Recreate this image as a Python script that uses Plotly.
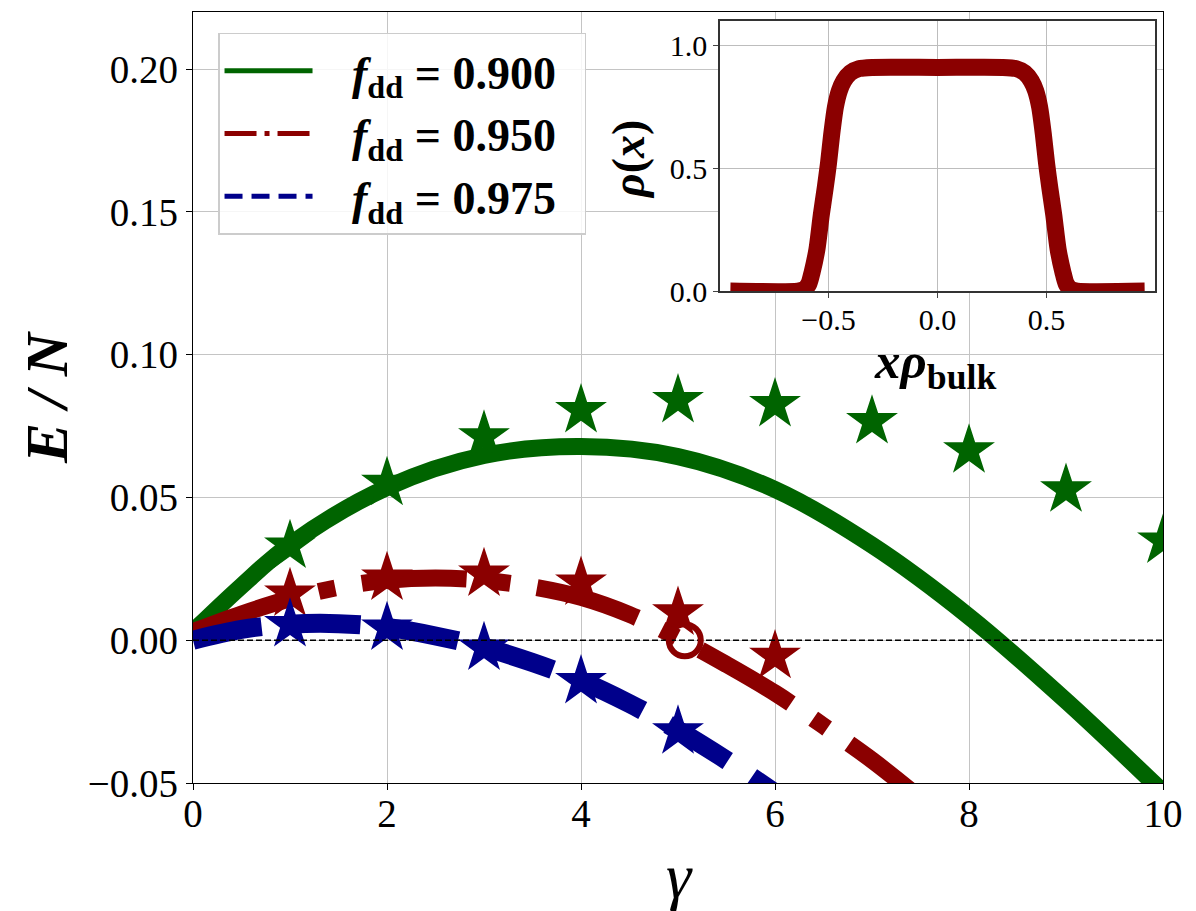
import plotly.graph_objects as go

# energy curves E/N vs gamma
gam_090_c = [0, 0.5, 1, 2, 3, 4, 5, 6, 7, 8, 9, 10]
e_090 = [0.003, 0.019, 0.0335, 0.0535, 0.0647, 0.0678, 0.0643, 0.0528, 0.0333, 0.0083, -0.0212, -0.0532]
gam_095_c = [0, 0.5, 1, 1.5, 2, 2.5, 3, 3.5, 4, 4.5, 5, 5.5, 6, 6.5, 7, 7.5]
e_095 = [0.003, 0.0092, 0.0145, 0.0185, 0.0210, 0.0218, 0.0210, 0.0187, 0.0150, 0.0090, 0.0008,
         -0.0085, -0.0185, -0.0300, -0.0420, -0.0555]
gam_0975_c = [0, 0.5, 1, 1.5, 2, 2.5, 3, 3.5, 4, 4.5, 5, 5.5, 6]
e_0975 = [0.000, 0.0038, 0.0056, 0.0058, 0.0045, 0.0015, -0.0025, -0.0078, -0.0142, -0.0222,
          -0.0315, -0.0420, -0.0535]

# star markers
gam_090 = [1, 2, 3, 4, 5, 6, 7, 8, 9, 10]
star_090 = [0.033, 0.055, 0.0713, 0.0805, 0.0840, 0.0826, 0.0766, 0.0664, 0.0527, 0.0348]
gam_095 = [1, 2, 3, 4, 5, 6]
star_095 = [0.0162, 0.0218, 0.0232, 0.0201, 0.0096, -0.0056]
gam_0975 = [1, 2, 3, 4, 5]
star_0975 = [0.0055, 0.0043, -0.0027, -0.0144, -0.0320]

# open circle marker
circ_x = [5.07]
circ_y = [0.0]

# inset density profile
x_half = [-0.95, -0.64, -0.61, -0.59, -0.575, -0.553, -0.533, -0.515, -0.5, -0.485, -0.468,
          -0.45, -0.43, -0.40, -0.36, -0.30]
rho_half = [0.0, 0.0, 0.008, 0.03, 0.077, 0.17, 0.31, 0.42, 0.52, 0.64, 0.75,
            0.815, 0.855, 0.888, 0.905, 0.91]
x_rho = x_half + [0.0] + [-v for v in reversed(x_half)]
rho = rho_half + [0.91] + list(reversed(rho_half))

labels = ["0.900", "0.950", "0.975"]
GREEN = "#006400"
RED = "#8b0000"
BLUE = "#00008b"
FONT = "Liberation Serif"
NB = "\u00a0"

fig = go.Figure()

fig.add_trace(go.Scatter(x=gam_090_c, y=e_090, mode="lines", line=dict(color=GREEN, width=17, shape="spline"),
                         showlegend=False))
fig.add_trace(go.Scatter(x=gam_090, y=star_090, mode="markers", marker=dict(symbol="star", size=39, color=GREEN),
                         showlegend=False))
fig.add_trace(go.Scatter(x=gam_095_c, y=e_095, mode="lines",
                         line=dict(color=RED, width=17, shape="spline", dash="105px,27px,17px,27px"),
                         showlegend=False))
fig.add_trace(go.Scatter(x=gam_095, y=star_095, mode="markers", marker=dict(symbol="star", size=39, color=RED),
                         showlegend=False))
fig.add_trace(go.Scatter(x=gam_0975_c, y=e_0975, mode="lines",
                         line=dict(color=BLUE, width=19, shape="spline", dash="70px,29px"),
                         showlegend=False))
fig.add_trace(go.Scatter(x=gam_0975, y=star_0975, mode="markers", marker=dict(symbol="star", size=39, color=BLUE),
                         showlegend=False))
fig.add_trace(go.Scatter(x=[0, 10], y=[0, 0], mode="lines", line=dict(color="black", width=1.5, dash="6px,3px"),
                         showlegend=False))
fig.add_trace(go.Scatter(x=circ_x, y=circ_y, mode="markers",
                         marker=dict(symbol="circle-open", size=32, color=RED, line=dict(width=6, color=RED)),
                         showlegend=False))

# legend entries (thin samples)
leg_styles = [(GREEN, "solid"), (RED, "32px,8px,5px,8px"), (BLUE, "18px,9px")]
for i, (lab, (col, dsh)) in enumerate(zip(labels, leg_styles)):
    fig.add_trace(go.Scatter(x=[None], y=[None], mode="lines", line=dict(color=col, width=5, dash=dsh),
                             legendgroup="g%d" % i,
                             name=NB * 3 + "<b><i>f</i><sub>dd</sub>" + NB + "=" + NB + lab + "</b>" + NB * 2))

# inset
fig.add_trace(go.Scatter(x=x_rho, y=rho, mode="lines",
                         line=dict(color=RED, width=17, shape="spline", smoothing=0.7),
                         xaxis="x2", yaxis="y2", showlegend=False))

fig.add_shape(type="rect", xref="x2", yref="y2", x0=-0.9975, x1=0.9975, y0=0, y1=1.1,
              fillcolor="white", line=dict(width=0), layer="below")

fig.update_layout(
    width=1188, height=903,
    margin=dict(l=185, r=33, t=4, b=128),
    paper_bgcolor="white", plot_bgcolor="white",
    font=dict(family=FONT, color="black"),
    xaxis=dict(range=[0, 10], dtick=2, tick0=0, showgrid=True, gridcolor="#c4c4c4", gridwidth=1,
               showline=True, mirror=True, linecolor="black", linewidth=1.3, ticks="outside",
               ticklen=6, tickcolor="black", tickfont=dict(size=39, family=FONT), zeroline=False,
               ticklabelstandoff=-10),
    yaxis=dict(range=[-0.05, 0.22], dtick=0.05, tick0=0, tickformat=".2f", showgrid=True,
               gridcolor="#c4c4c4", gridwidth=1, showline=True, mirror=True, linecolor="black",
               linewidth=1.3, ticks="outside", ticklen=6, tickcolor="black",
               tickfont=dict(size=39, family=FONT), zeroline=False),
    xaxis2=dict(domain=[0.5433, 0.9918], anchor="y2", range=[-0.9975, 0.9975],
                tickvals=[-0.5, 0, 0.5], tickformat=".1f", showgrid=True, gridcolor="#bdbdbd",
                showline=True, mirror=True, linecolor="#333333", linewidth=1.5, ticks="outside",
                ticklen=5, tickfont=dict(size=30, family=FONT), zeroline=False,
                ticklabelstandoff=-4),
    yaxis2=dict(domain=[0.638, 0.9887], anchor="x2", range=[0, 1.1], tickvals=[0, 0.5, 1.0],
                tickformat=".1f", showgrid=True, gridcolor="#bdbdbd", showline=True, mirror=True,
                linecolor="#333333", linewidth=1.5, ticks="outside", ticklen=5,
                tickfont=dict(size=30, family=FONT), zeroline=False),
    legend=dict(x=0.0258, y=0.973, xanchor="left", yanchor="top", bgcolor="rgba(255,255,255,0.85)",
                bordercolor="#cccccc", borderwidth=1.5, font=dict(size=46, family=FONT),
                itemwidth=88, tracegroupgap=0),
    annotations=[
        dict(text="<b><i>E" + NB + "/" + NB + "N</i></b>", xref="paper", yref="paper", x=-0.1505, y=0.5007,
             xanchor="center", yanchor="middle", textangle=-90, showarrow=False,
             font=dict(size=60, family=FONT)),
        dict(text="<i>γ</i>", xref="paper", yref="paper", x=0.502, y=-0.1195, xanchor="center",
             yanchor="middle", showarrow=False, font=dict(size=64, family=FONT)),
        dict(text="<b><i>ρ</i>(<i>x</i>)</b>", xref="paper", yref="paper", x=0.4485, y=0.808,
             xanchor="center", yanchor="middle", textangle=-90, showarrow=False,
             font=dict(size=46, family=FONT)),
        dict(text="<b><i>xρ</i><sub>bulk</sub></b>", xref="paper", yref="paper", x=0.765, y=0.542,
             xanchor="center", yanchor="middle", showarrow=False, font=dict(size=51, family=FONT)),
    ],
)

fig.write_html("out.html")
